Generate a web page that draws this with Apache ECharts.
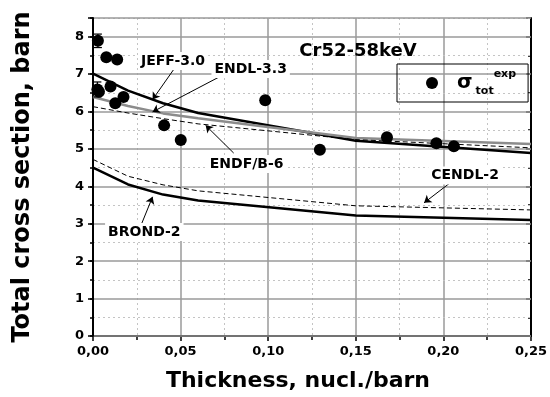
<!DOCTYPE html>
<html>
<head>
<meta charset="utf-8">
<script src="https://cdn.jsdelivr.net/npm/echarts@6/dist/echarts.min.js"></script>
<style>
  html, body { margin: 0; padding: 0; background: #fff; }
  #chart { width: 550px; height: 397px; }
</style>
</head>
<body>
<div id="chart"></div>
<script>
// thickness points where the evaluated curves were computed
const thick = [0, 0.02, 0.04, 0.06, 0.15, 0.25];
const jeff30 = [7.01, 6.56, 6.22, 5.96, 5.22, 4.89];
const endl33 = [6.39, 6.15, 5.95, 5.82, 5.29, 5.13];
const endfb6 = [6.13, 5.96, 5.81, 5.67, 5.25, 5.03];
const cendl2 = [4.72, 4.27, 4.04, 3.88, 3.48, 3.37];
const brond2 = [4.50, 4.05, 3.78, 3.62, 3.22, 3.10];

// measured total cross section
const expX = [0.0028, 0.0076, 0.0138, 0.0025, 0.0034, 0.0100, 0.0174, 0.0127, 0.0406, 0.0501, 0.0983, 0.1295, 0.1678, 0.1960, 0.2060];
const expY = [7.89, 7.45, 7.39, 6.59, 6.53, 6.67, 6.39, 6.22, 5.63, 5.24, 6.30, 4.98, 5.31, 5.15, 5.07];
const expErr = [0.18, 0, 0, 0.20, 0, 0, 0, 0, 0, 0, 0, 0, 0, 0, 0];

const xTicks = [0, 0.05, 0.10, 0.15, 0.20, 0.25];
const yTicks = [0, 1, 2, 3, 4, 5, 6, 7, 8];

const FONT = 'DejaVu Sans';
const pairs = (ys) => thick.map((x, i) => [x, ys[i]]);

// label text, label position, arrow start, arrow end (data units)
const notes = [
  { text: 'JEFF-3.0', at: [0.0457, 7.35], from: [0.0463, 7.14], to: [0.034, 6.32] },
  { text: 'ENDL-3.3', at: [0.0900, 7.14], from: [0.0735, 6.96], to: [0.034, 5.99] },
  { text: 'ENDF/B-6', at: [0.0877, 4.60], from: [0.0803, 4.89], to: [0.0643, 5.63] },
  { text: 'CENDL-2', at: [0.2124, 4.29], from: [0.2040, 4.10], to: [0.189, 3.56] },
  { text: 'BROND-2', at: [0.0293, 2.78], from: [0.0274, 2.96], to: [0.034, 3.72] }
];

const chart = echarts.init(document.getElementById('chart'));

function curve(name, ys, color, width, type) {
  return {
    name: name,
    type: 'line',
    data: pairs(ys),
    showSymbol: false,
    symbol: 'none',
    lineStyle: { color: color, width: width, type: type },
    z: 3
  };
}

const axisBlack = { lineStyle: { color: '#000', width: 2 } };
const fmtX = (v) => v.toFixed(2).replace('.', ',');

const option = {
  animation: false,
  textStyle: { fontFamily: FONT },
  title: {
    text: 'Cr52-58keV',
    left: 353,
    top: 37,
    textAlign: 'center',
    textStyle: { fontFamily: FONT, fontSize: 18, fontWeight: 'bold', color: '#000' }
  },
  legend: {
    data: ['exp'],
    left: 397,
    top: 64,
    orient: 'vertical',
    icon: 'circle',
    itemWidth: 12,
    itemHeight: 12,
    borderColor: '#000',
    borderWidth: 1,
    padding: [5, 12, 5, 29],
    formatter: () => '{s|σ}{sub|tot}{sup|exp}',
    textStyle: {
      rich: {
        s: { fontFamily: FONT, fontSize: 20, fontWeight: 'bold', color: '#000', lineHeight: 28, padding: [0, 3, 0, 14] },
        sub: { fontFamily: FONT, fontSize: 11, fontWeight: 'bold', color: '#000', lineHeight: 28, verticalAlign: 'bottom' },
        sup: { fontFamily: FONT, fontSize: 11, fontWeight: 'bold', color: '#000', lineHeight: 28, verticalAlign: 'top' }
      }
    }
  },
  grid: { left: 93, right: 17, top: 18, bottom: 57 },
  xAxis: [
    {
      type: 'value', min: 0, max: 0.25, interval: 0.05, position: 'bottom',
      name: 'Thickness, nucl./barn',
      nameLocation: 'middle',
      nameGap: 34,
      nameTextStyle: { fontFamily: FONT, fontSize: 22, fontWeight: 'bold', color: '#000', padding: [0, 28, 0, 0] },
      axisLine: axisBlack,
      axisTick: { length: 5, lineStyle: { color: '#000', width: 1.5 } },
      minorTick: { show: true, splitNumber: 2, length: 4, lineStyle: { color: '#000', width: 1.5 } },
      axisLabel: { formatter: fmtX, fontFamily: FONT, fontSize: 13, fontWeight: 'bold', color: '#000', margin: 9 },
      splitLine: { show: true, lineStyle: { color: '#9a9a9a', width: 1.5 } },
      minorSplitLine: { show: true, lineStyle: { color: '#c4c4c4', width: 1, type: [2, 3] } }
    },
    {
      type: 'value', min: 0, max: 0.25, interval: 0.05, position: 'top',
      axisLine: axisBlack,
      axisTick: { inside: true, length: 5, lineStyle: { color: '#000', width: 1.5 } },
      minorTick: { show: true, splitNumber: 2, length: 4, lineStyle: { color: '#000', width: 1.5 } },
      axisLabel: { show: false },
      splitLine: { show: false }
    }
  ],
  yAxis: [
    {
      type: 'value', min: 0, max: 8.5, interval: 1, position: 'left',
      name: 'Total cross section, barn',
      nameLocation: 'middle',
      nameGap: 58,
      nameTextStyle: { fontFamily: FONT, fontSize: 24, fontWeight: 'bold', color: '#000' },
      axisLine: axisBlack,
      axisTick: { length: 5, lineStyle: { color: '#000', width: 1.5 } },
      axisLabel: {
        formatter: (v) => (yTicks.indexOf(v) >= 0 ? String(v) : ''),
        fontFamily: FONT, fontSize: 13, fontWeight: 'bold', color: '#000', margin: 9
      },
      splitLine: { show: true, lineStyle: { color: '#9a9a9a', width: 1.5 } },
      z: 2
    },
    {
      type: 'value', min: 0, max: 8.5, interval: 0.5, position: 'left',
      axisLine: { show: false },
      axisTick: { length: 3, lineStyle: { color: '#000', width: 1.5 } },
      axisLabel: { show: false },
      splitLine: { show: true, lineStyle: { color: ['rgba(0,0,0,0)', '#c4c4c4'], width: 1, type: [2, 3] } },
      z: 1
    },
    {
      type: 'value', min: 0, max: 8.5, interval: 1, position: 'right',
      axisLine: axisBlack,
      axisTick: { inside: true, length: 5, lineStyle: { color: '#000', width: 1.5 } },
      axisLabel: { show: false },
      splitLine: { show: false }
    },
    {
      type: 'value', min: 0, max: 8.5, interval: 0.5, position: 'right',
      axisLine: { show: false },
      axisTick: { inside: true, length: 3, lineStyle: { color: '#000', width: 1.5 } },
      axisLabel: { show: false },
      splitLine: { show: false }
    }
  ],
  series: [
    curve('JEFF-3.0', jeff30, '#000', 2.5, 'solid'),
    curve('ENDL-3.3', endl33, '#8c8c8c', 2.5, 'solid'),
    curve('ENDF/B-6', endfb6, '#000', 1, [5, 3]),
    curve('CENDL-2', cendl2, '#000', 1, [5, 3]),
    curve('BROND-2', brond2, '#000', 2.5, 'solid'),
    {
      name: 'errors',
      type: 'custom',
      data: expX.map((x, i) => [x, expY[i], expErr[i]]).filter((d) => d[2] > 0),
      renderItem: (params, api) => {
        const x = api.value(0), y = api.value(1), e = api.value(2);
        const lo = api.coord([x, y - e]);
        const hi = api.coord([x, y + e]);
        const st = { stroke: '#000', lineWidth: 1.2 };
        return {
          type: 'group',
          children: [
            { type: 'line', shape: { x1: lo[0], y1: lo[1], x2: hi[0], y2: hi[1] }, style: st },
            { type: 'line', shape: { x1: lo[0] - 4, y1: lo[1], x2: lo[0] + 4, y2: lo[1] }, style: st },
            { type: 'line', shape: { x1: hi[0] - 4, y1: hi[1], x2: hi[0] + 4, y2: hi[1] }, style: st }
          ]
        };
      },
      z: 4
    },
    {
      name: 'exp',
      type: 'scatter',
      data: expX.map((x, i) => [x, expY[i]]),
      symbol: 'circle',
      symbolSize: 12,
      itemStyle: { color: '#000', opacity: 1 },
      z: 5
    },
    {
      name: 'notes',
      type: 'line',
      data: [],
      z: 6,
      markLine: {
        silent: true,
        symbol: ['none', 'arrow'],
        symbolSize: 7,
        label: { show: false },
        lineStyle: { color: '#000', width: 1, type: 'solid' },
        data: notes.map((n) => [{ coord: n.from }, { coord: n.to }])
      },
      markPoint: {
        silent: true,
        symbol: 'rect',
        symbolSize: 1,
        itemStyle: { color: 'rgba(0,0,0,0)' },
        label: {
          show: true,
          position: 'inside',
          fontFamily: FONT,
          fontSize: 14,
          fontWeight: 'bold',
          color: '#000',
          backgroundColor: '#fff',
          padding: [2, 3]
        },
        data: notes.map((n) => ({ coord: n.at, value: n.text, label: { formatter: n.text } }))
      }
    }
  ]
};

option && chart.setOption(option);
</script>
</body>
</html>
